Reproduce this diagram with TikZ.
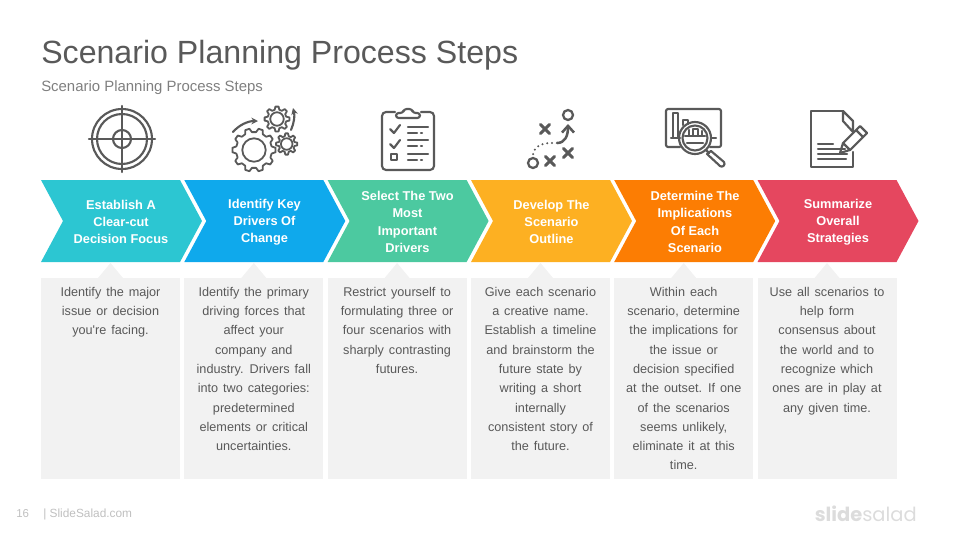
\documentclass[tikz,border=0pt]{standalone}
\usepackage{fontspec}
\setmainfont{Liberation Sans}
\newfontfamily\logofont{Poppins}
\newfontfamily\notefont[WordSpace=1.4]{Liberation Sans}
\usetikzlibrary{arrows.meta}
\definecolor{ink}{HTML}{595959}
\definecolor{inkdim}{HTML}{7F7F7F}
\definecolor{foot}{HTML}{BFBFBF}
\definecolor{logo}{HTML}{DCDCDC}
\definecolor{panel}{HTML}{F2F2F2}
\definecolor{stepa}{HTML}{2CC6D2}
\definecolor{stepb}{HTML}{0FA9EC}
\definecolor{stepc}{HTML}{4CC9A0}
\definecolor{stepd}{HTML}{FDB022}
\definecolor{stepe}{HTML}{FC7D03}
\definecolor{stepf}{HTML}{E5475F}
\newcommand{\gearicon}[5]{%
  \pgfmathsetmacro\gstep{360/#5}
  \draw[icon,line width=1.35pt] (#1,#2) circle[radius=#4*.54];
  \begin{scope}[shift={(#1,#2)}]
    \draw[icon,line width=1.35pt] ({-.32*\gstep}:#3) \foreach \k [evaluate=\k as \ang using (\k-1)*\gstep] in {1,...,#5}{
      -- ({\ang-.32*\gstep}:#3) -- ({\ang-.16*\gstep}:#4) -- ({\ang+.16*\gstep}:#4) -- ({\ang+.32*\gstep}:#3)} -- cycle;
  \end{scope}}
\newcommand{\crossicon}[2]{\draw[icon,line width=2.2pt] (#1-4.5,#2-4.5)--(#1+4.5,#2+4.5) (#1-4.5,#2+4.5)--(#1+4.5,#2-4.5);}
\begin{document}
\begin{tikzpicture}[x=.75pt,y=-.75pt,
     icon/.style={draw=ink,line width=1.6pt,line join=round,line cap=round},
     head/.style={font=\fontsize{9.6}{12.9}\selectfont\bfseries,text=white,align=center,inner sep=0pt},
     note/.style={font=\notefont\fontsize{9.5}{14.45}\selectfont,text=ink,align=center,anchor=north,inner sep=0pt}]
    \useasboundingbox (0,0) rectangle (960,540);
    % title
    \node[anchor=base west,inner sep=0pt,text=ink,font=\fontsize{24.1}{28}\selectfont](title) at (41,63){Scenario Planning Process Steps};
    \node[anchor=base west,inner sep=0pt,text=inkdim,font=\fontsize{11.2}{13}\selectfont](subtitle) at (41,91){Scenario Planning Process Steps};
    % chevrons and panels
    \foreach \x/\c in {41/stepa,184.3/stepb,327.6/stepc,471/stepd,614.2/stepe,757.5/stepf}{
      \fill[\c](\x,180)--++(139,0)--++(22,41)--++(-22,41)--++(-139,0)--++(22,-41)--cycle;
      \fill[panel](\x,278) rectangle ++(139,201);
      \fill[panel](\x+57,278)--++(12.5,-15)--++(12.5,15)--cycle;
    }
    \node[head](step1) at (121,222){Establish A\\Clear-cut\\Decision Focus};
    \node[head](step2) at (264.5,222){Identify Key\\Drivers Of\\Change};
    \node[head](step3) at (407.5,222){Select The Two\\Most\\Important\\Drivers};
    \node[head](step4) at (551.5,222){Develop The\\Scenario\\Outline};
    \node[head](step5) at (695,222){Determine The\\Implications\\Of Each\\Scenario};
    \node[head](step6) at (838,222){Summarize\\Overall\\Strategies};
    \node[note](note1) at (110.5,287){Identify the major\\issue or decision\\you're facing.};
    \node[note](note2) at (253.8,287){Identify the primary\\driving forces that\\affect your\\company and\\industry. Drivers fall\\into two categories:\\predetermined\\elements or critical\\uncertainties.};
    \node[note](note3) at (397.1,287){Restrict yourself to\\formulating three or\\four scenarios with\\sharply contrasting\\futures.};
    \node[note](note4) at (540.5,287){Give each scenario\\a creative name.\\Establish a timeline\\and brainstorm the\\future state by\\writing a short\\internally\\consistent story of\\the future.};
    \node[note](note5) at (683.7,287){Within each\\scenario, determine\\the implications for\\the issue or\\decision specified\\at the outset. If one\\of the scenarios\\seems unlikely,\\eliminate it at this\\time.};
    \node[note](note6) at (827,287){Use all scenarios to\\help form\\consensus about\\the world and to\\recognize which\\ones are in play at\\any given time.};
    % target icon
    \draw[icon] (122,139) circle[radius=30] (122,139) circle[radius=25] (122,139) circle[radius=9];
    \draw[icon] (122,106)--(122,172) (89,139)--(155,139);
    % gears icon
    \gearicon{254}{150}{18}{21.7}{10}
    \gearicon{277}{119}{9.5}{12.5}{8}
    \gearicon{286.7}{144}{8}{10.7}{8}
    \draw[icon,-{Stealth[length=5pt,width=5pt]}] (233,132) .. controls (239,125) and (248,121) .. (258,121);
    \draw[icon,-{Stealth[length=5pt,width=5pt]}] (291,130) .. controls (294,123) and (295,116) .. (293,108);
    % clipboard icon
    \draw[icon,rounded corners=3pt] (395,112)--(382,112)--(382,170)--(434,170)--(434,112)--(421,112);
    \draw[icon,rounded corners=2pt] (396,118)--(396,113)--(403,113)--(404,109)--(412,109)--(413,113)--(420,113)--(420,118)--cycle;
    \draw[icon] (390,129)--(394,133)--(400,125) (390,144)--(394,148)--(400,140);
    \draw[icon] (391,154) rectangle (397,160);
    \foreach \y in {127,140,154}{
      \draw[icon] (408,\y)--(428,\y);
      \draw[icon] (408,\y+6)--(417,\y+6) (421,\y+6)--(422,\y+6);
    }
    % plan icon
    \draw[icon,line width=1.7pt] (568,115) circle[radius=5] (533,163) circle[radius=5];
    \crossicon{545}{129}
    \crossicon{550}{161}
    \crossicon{568}{153}
    \draw[icon,line width=1.9pt,-{Straight Barb[length=5pt,width=9pt]}] (557,143) .. controls (565,143) and (568,136) .. (568,124);
    \draw[icon,line width=1.7pt,dash pattern=on 0pt off 3.6pt] (552,143) .. controls (542,143) and (534,146) .. (533,155);
    % analysis icon
    \draw[icon,rounded corners=1.5pt] (680,147)--(666,147)--(666,109)--(721,109)--(721,147)--(710,147);
    \draw[icon] (673,137)--(673,113)--(678,113)--(678,137) (671,138)--(680,138) (683,125)--(683,120)--(688,120)--(688,124) (712,138)--(716,138);
    \draw[icon] (695,138) circle[radius=16] (695,138) circle[radius=12.5];
    \draw[icon] (685,136)--(705,136) (687,143)--(703,143) (689,130)--(689,135) (693,135)--(693,129)--(698,129)--(698,135) (702,131)--(702,135);
    \draw[icon] (706,150)--(709,153) (711,151)--(724,162) .. controls (726,165) and (722,168) .. (720,166)--(707,154)--cycle;
    % document icon
    \draw[icon] (843,111)--(811,111)--(811,167)--(853,167)--(853,152);
    \draw[icon] (853,132)--(853,121)--(843,111)--(843,121)--cycle;
    \draw[icon] (818,144)--(833,144) (818,149)--(845,149) (818,154)--(847,154) (818,159)--(846,159);
    \draw[icon] (840,153)--(843,143)--(860,126)--(867,133)--(850,150)--cycle (843,143)--(850,150) (856,130)--(863,137);
    % footer
    \node[anchor=base west,inner sep=0pt,text=foot,font=\fontsize{8.6}{10}\selectfont](page) at (16,517){16};
    \node[anchor=base west,inner sep=0pt,text=foot,font=\fontsize{8.9}{10}\selectfont](site) at (43,517){| SlideSalad.com};
    \node[anchor=base east,inner sep=0pt,text=logo,font=\logofont\fontsize{14.6}{20}\selectfont](brand) at (917,521){\textbf{slide}salad};
\end{tikzpicture}
\end{document}
